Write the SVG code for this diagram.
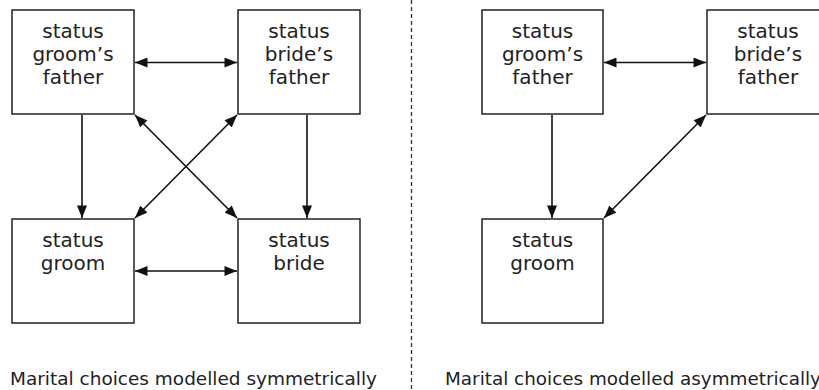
<svg xmlns="http://www.w3.org/2000/svg" width="819" height="390" viewBox="0 0 819 390">
<style>
.box{fill:#fff;stroke:#222;stroke-width:1.5}
.lbl{font-family:"DejaVu Sans",Verdana,sans-serif;font-size:20px;fill:#222;text-anchor:middle}
.cap{font-family:"DejaVu Sans",Verdana,sans-serif;font-size:18px;fill:#222}
.con{stroke:#111;stroke-width:1.6;fill:none;marker-end:url(#ah)}
.bi{marker-start:url(#ahs)}
</style>
<defs>
<marker id="ah" viewBox="0 0 10 8" refX="10" refY="4" markerWidth="13" markerHeight="10" markerUnits="userSpaceOnUse" orient="auto"><path d="M0,0L10,4L0,8z" fill="#111"/></marker>
<marker id="ahs" viewBox="0 0 10 8" refX="0" refY="4" markerWidth="13" markerHeight="10" markerUnits="userSpaceOnUse" orient="auto"><path d="M10,0L0,4L10,8z" fill="#111"/></marker>
</defs>
<rect width="819" height="390" fill="#fff"/>
<line x1="411.5" y1="0" x2="411.5" y2="390" stroke="#333" stroke-width="1.3" stroke-dasharray="4,3"/>
<g id="connectors">
<line class="con bi" x1="135" y1="62.5" x2="237" y2="62.5"/>
<line class="con bi" x1="135" y1="271" x2="237" y2="271"/>
<line class="con" x1="82" y1="115" x2="82" y2="218"/>
<line class="con" x1="307" y1="115" x2="307" y2="218"/>
<line class="con bi" x1="135" y1="115" x2="237" y2="218"/>
<line class="con bi" x1="237" y1="115" x2="135" y2="218"/>
<line class="con bi" x1="604" y1="62.5" x2="706" y2="62.5"/>
<line class="con" x1="552" y1="115" x2="552" y2="218"/>
<line class="con bi" x1="706" y1="115" x2="604" y2="218"/>
</g>
<g id="L-groomfather"><rect class="box" x="12" y="10" width="122" height="104"/><text class="lbl" x="73" y="38">status</text><text class="lbl" x="73" y="61">groom’s</text><text class="lbl" x="73" y="84">father</text></g>
<g id="L-bridefather"><rect class="box" x="238" y="10" width="122" height="104"/><text class="lbl" x="299" y="38">status</text><text class="lbl" x="299" y="61">bride’s</text><text class="lbl" x="299" y="84">father</text></g>
<g id="L-groom"><rect class="box" x="12" y="219" width="122" height="104"/><text class="lbl" x="73" y="247">status</text><text class="lbl" x="73" y="270">groom</text></g>
<g id="L-bride"><rect class="box" x="238" y="219" width="122" height="104"/><text class="lbl" x="299" y="247">status</text><text class="lbl" x="299" y="270">bride</text></g>
<g id="R-groomfather"><rect class="box" x="482" y="10" width="121" height="104"/><text class="lbl" x="542.5" y="38">status</text><text class="lbl" x="542.5" y="61">groom’s</text><text class="lbl" x="542.5" y="84">father</text></g>
<g id="R-bridefather"><rect class="box" x="707" y="10" width="122" height="104"/><text class="lbl" x="768" y="38">status</text><text class="lbl" x="768" y="61">bride’s</text><text class="lbl" x="768" y="84">father</text></g>
<g id="R-groom"><rect class="box" x="482" y="219" width="121" height="104"/><text class="lbl" x="542.5" y="247">status</text><text class="lbl" x="542.5" y="270">groom</text></g>
<text class="cap" x="10" y="385" textLength="367" lengthAdjust="spacingAndGlyphs">Marital choices modelled symmetrically</text>
<text class="cap" x="445" y="385" textLength="376" lengthAdjust="spacingAndGlyphs">Marital choices modelled asymmetrically</text>
</svg>
